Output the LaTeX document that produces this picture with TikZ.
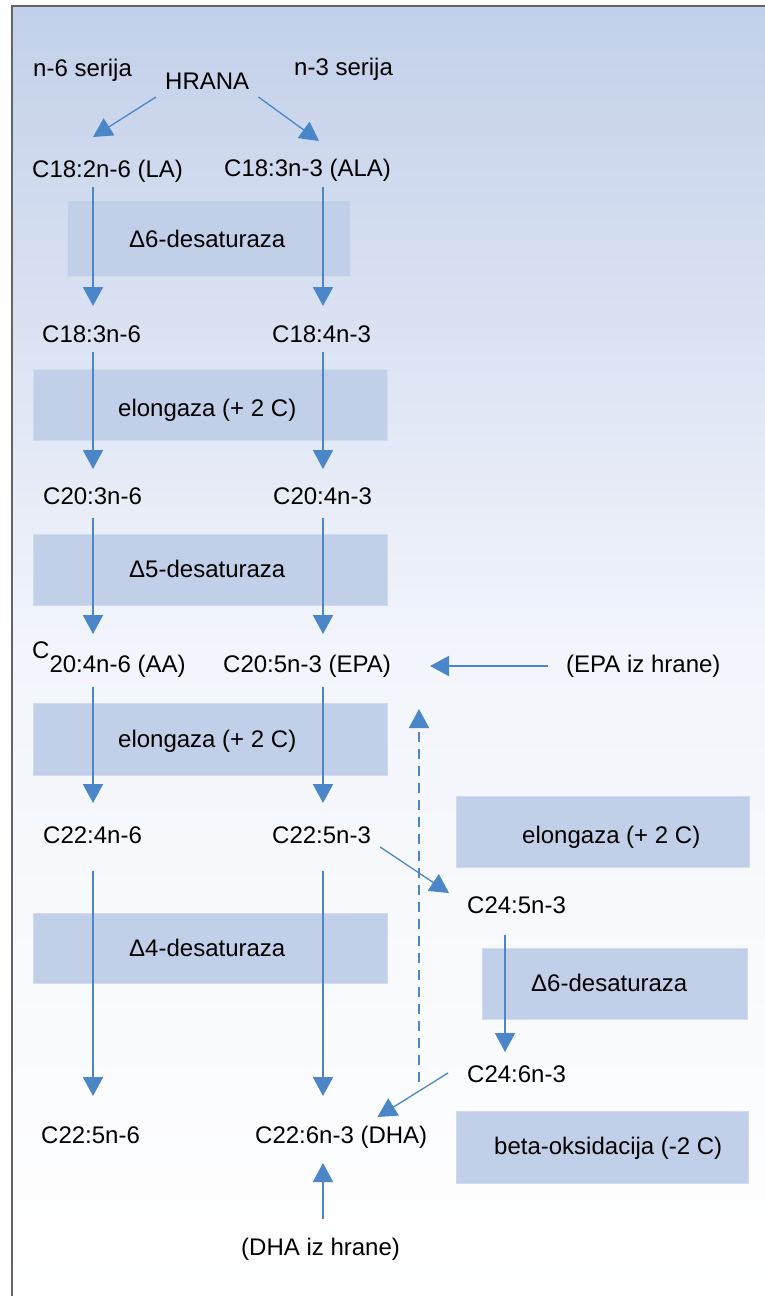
\documentclass[tikz,border=0pt]{standalone}
\usepackage{fontspec}
\setmainfont{Liberation Sans}
\usetikzlibrary{arrows.meta,calc}
\definecolor{arrblue}{RGB}{74,134,200}
\definecolor{boxblue}{RGB}{194,207,233}
\definecolor{bgtop}{RGB}{195,208,234}
\definecolor{bgmid}{RGB}{242,245,251}
\definecolor{framegray}{RGB}{100,100,100}
\begin{document}
\begin{tikzpicture}[x=1pt,y=-1pt,
  txt/.style={inner sep=0pt, anchor=base west, font=\fontsize{24}{28}\selectfont, text height=18pt, text depth=5pt},
  box/.style={fill=boxblue, draw=white!25!boxblue, line width=0.6pt, inner sep=0pt},
  arr/.style={draw=arrblue, line width=2pt, -{Triangle[width=20pt,length=19pt]}},
  arrthin/.style={arr, line width=1.3pt},
  arrdash/.style={arr, line width=1.5pt, dash pattern=on 10pt off 7pt}]
\useasboundingbox (0,0) rectangle (765,1296);
\fill[white] (0,0) rectangle (765,1296);
\shade[top color=bgtop, bottom color=bgmid] (12,6) rectangle (765,650);
\shade[top color=bgmid, bottom color=white] (12,649.5) rectangle (765,1296);
\draw[framegray, line width=2pt] (12,1296) -- (12,6) -- (765,6);

% boxes
\node[box, minimum width=283pt, minimum height=76pt] (b1) at (208.5,238) {};
\node[box, minimum width=354pt, minimum height=71pt] (b2) at (210,404.5) {};
\node[box, minimum width=354pt, minimum height=71pt] (b3) at (210,569.5) {};
\node[box, minimum width=354pt, minimum height=72pt] (b4) at (210,739) {};
\node[box, minimum width=354pt, minimum height=70pt] (b5) at (210,948) {};
\node[box, minimum width=293pt, minimum height=71pt] (b6) at (602.5,831.5) {};
\node[box, minimum width=265pt, minimum height=71pt] (b7) at (614.5,983.5) {};
\node[box, minimum width=292pt, minimum height=72pt] (b8) at (602,1147) {};

% box texts
\node[txt] (t1) at (129,247) {Δ6-desaturaza};
\node[txt] (t2) at (118,416) {elongaza (+ 2 C)};
\node[txt] (t3) at (129,577) {Δ5-desaturaza};
\node[txt] (t4) at (118,747) {elongaza (+ 2 C)};
\node[txt] (t5) at (129,956) {Δ4-desaturaza};
\node[txt] (t6) at (522,843) {elongaza (+ 2 C)};
\node[txt] (t7) at (531,991) {Δ6-desaturaza};
\node[txt] (t8) at (494,1154) {beta-oksidacija (-2 C)};

% texts
\node[txt] (n6) at (33,76) {n-6 serija};
\node[txt] (hrana) at (165,89) {HRANA};
\node[txt] (n3) at (294,75) {n-3 serija};
\node[txt] (la) at (32,177) {C18:2n-6 (LA)};
\node[txt] (ala) at (224,176) {C18:3n-3 (ALA)};
\node[txt] (l2) at (42,342) {C18:3n-6};
\node[txt] (r2) at (272,342) {C18:4n-3};
\node[txt] (l3) at (43,504) {C20:3n-6};
\node[txt] (r3) at (273,504) {C20:4n-3};
\node[txt] (aa) at (32,658) {C\raisebox{-14pt}{20:4n-6 (AA)}};
\node[txt] (epa) at (223,672) {C20:5n-3 (EPA)};
\node[txt] (epah) at (566,672) {(EPA iz hrane)};
\node[txt] (l5) at (43,843) {C22:4n-6};
\node[txt] (r5) at (272,843) {C22:5n-3};
\node[txt] (c245) at (467,913) {C24:5n-3};
\node[txt] (c246) at (467,1082) {C24:6n-3};
\node[txt] (l6) at (41,1143) {C22:5n-6};
\node[txt] (dha) at (255,1143) {C22:6n-3 (DHA)};
\node[txt] (dhah) at (241,1255) {(DHA iz hrane)};

% column coordinates
\coordinate (cL) at (93,0);
\coordinate (cR) at (323,0);
\coordinate (cS) at (505,0);
\coordinate (cD) at (419,0);

% left column
\draw[arr] ($(la.base -| cL)+(0,10)$) -- ($(l2.base -| cL)+(0,-36)$);
\draw[arr] ($(l2.base -| cL)+(0,10)$) -- ($(l3.base -| cL)+(0,-35)$);
\draw[arr] ($(l3.base -| cL)+(0,14)$) -- ($(aa.base -| cL)+(0,-24)$);
\draw[arr] ($(aa.base -| cL)+(0,29)$) -- ($(l5.base -| cL)+(0,-40)$);
\draw[arr] ($(l5.base -| cL)+(0,28)$) -- ($(l6.base -| cL)+(0,-47)$);
% right column
\draw[arr] ($(ala.base -| cR)+(0,11)$) -- ($(r2.base -| cR)+(0,-36)$);
\draw[arr] ($(r2.base -| cR)+(0,10)$) -- ($(r3.base -| cR)+(0,-35)$);
\draw[arr] ($(r3.base -| cR)+(0,14)$) -- ($(epa.base -| cR)+(0,-38)$);
\draw[arr] ($(epa.base -| cR)+(0,15)$) -- ($(r5.base -| cR)+(0,-40)$);
\draw[arr] ($(r5.base -| cR)+(0,28)$) -- ($(dha.base -| cR)+(0,-47)$);
\draw[arr] ($(dhah.base -| cR)+(0,-36)$) -- ($(dha.base -| cR)+(0,20)$);
% side branch
\draw[arr] ($(c245.base -| cS)+(0,22)$) -- ($(c246.base -| cS)+(0,-30)$);
\draw[arr] ($(epah.base west)+(-18,-6)$) -- ($(epa.base east)+(39,-6)$);
\draw[arrthin] ($(hrana.base west)+(-9,8)$) -- ($(la.base -| cL)+(0,-40)$);
\draw[arrthin] ($(hrana.base east)+(9,8)$) -- ($(ala.base -| cR)+(-4,-35)$);
\draw[arrthin] ($(r5.base east)+(9,4)$) -- ($(c245.base west)+(-18,-20)$);
\draw[arrthin] ($(c246.base west)+(-19,-9)$) -- ($(dha.base east)+(-50,-26)$);
\draw[arrdash] (c246.base -| cD) -- ($(epa.base -| cD)+(0,37)$);
\end{tikzpicture}
\end{document}
